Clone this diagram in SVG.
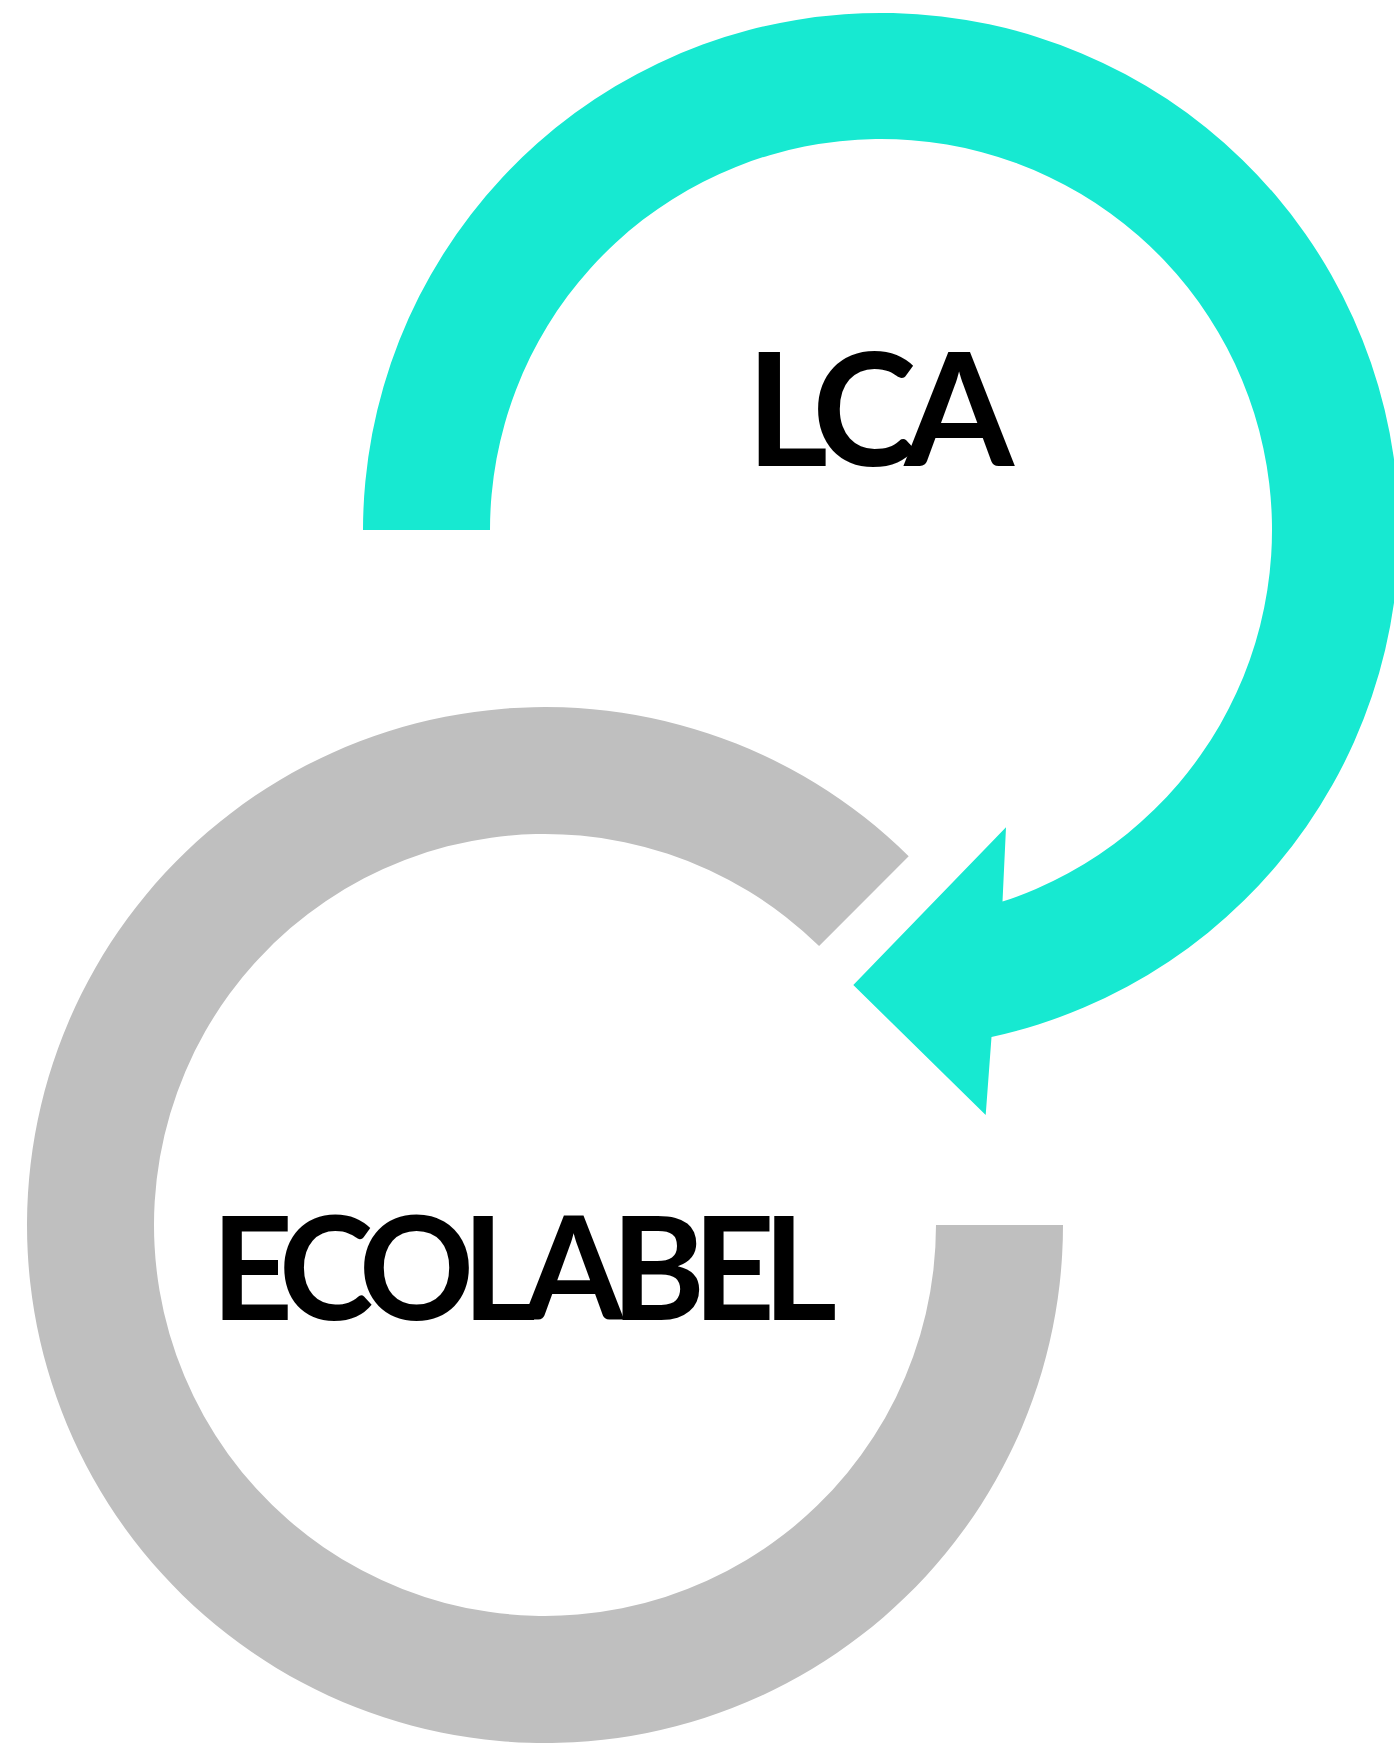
<svg xmlns="http://www.w3.org/2000/svg" width="1394" height="1744" viewBox="0 0 1394 1744">
<style>
.teal{fill:#17E9D1}
.grey{fill:#BFBFBF}
.lbl{font-family:Lato,"Open Sans","Liberation Sans",sans-serif;font-weight:700;fill:#000}
</style>
<rect width="1394" height="1744" fill="#fff"/>
<g id="connectors">
<path id="lca-cycle" class="teal" d="M363 530 A518 518 0 1 1 991.5 1037 L985.7 1115 L853.3 985 L1006 827.3 L1002.5 901.6 A391 391 0 1 0 490 530 Z"/>
<path id="ecolabel-cycle" class="grey" d="M1063 1225 A518 518 0 1 1 908.7 856.2 L819.1 946.1 A391 391 0 1 0 936 1225 Z"/>
</g>
<g id="node-lca">
<text class="lbl" x="746" y="466" font-size="158" textLength="268" lengthAdjust="spacing">LCA</text>
</g>
<g id="node-ecolabel">
<text class="lbl" x="211" y="1320" font-size="143" textLength="626" lengthAdjust="spacing">ECOLABEL</text>
</g>
</svg>
